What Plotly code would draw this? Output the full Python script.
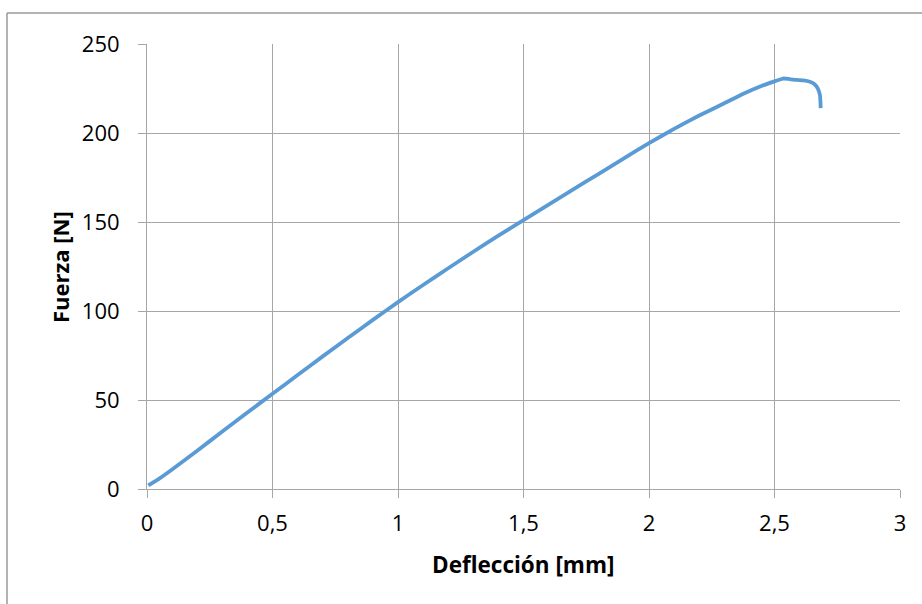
import plotly.graph_objects as go

deflexion_mm = [0.005, 0.05, 0.1, 0.2, 0.3, 0.4, 0.5, 0.6, 0.7, 0.8, 0.9, 1.0,
                1.1, 1.2, 1.3, 1.4, 1.5, 1.6, 1.7, 1.8, 1.9, 2.0, 2.1, 2.2,
                2.3, 2.376, 2.45, 2.5, 2.534, 2.56, 2.588, 2.615, 2.641, 2.656,
                2.668, 2.676, 2.681, 2.683, 2.684]
fuerza_n = [2, 6, 11, 21.5, 32.3, 43, 53.5, 64, 74.5, 84.8, 95, 105,
            114.6, 124, 133.3, 142.3, 151, 159.8, 168.5, 177.1, 185.8, 194.3, 202.3, 209.8,
            216.7, 222, 226.5, 229, 230.6, 230.3, 229.8, 229.5, 228.8, 227.8,
            226, 223.8, 221.3, 217.5, 214]

x_ticks = [0, 0.5, 1, 1.5, 2, 2.5, 3]
x_labels = ["0", "0,5", "1", "1,5", "2", "2,5", "3"]
y_ticks = [0, 50, 100, 150, 200, 250]
y_labels = ["0", "50", "100", "150", "200", "250"]

W, H = 922, 604
L, R, T, B = 147, 22, 44, 115
pw, ph = W - L - R, H - T - B

fig = go.Figure()
fig.add_trace(go.Scatter(
    x=deflexion_mm, y=fuerza_n, mode="lines",
    line=dict(color="#5b9bd5", width=3.8, shape="spline", smoothing=0.5),
    hoverinfo="x+y", showlegend=False))

font = "Open Sans, Liberation Sans, sans-serif"
grid = "#a6a6a6"

fig.update_layout(
    width=W, height=H,
    margin=dict(l=L, r=R, t=T, b=B),
    paper_bgcolor="white", plot_bgcolor="white",
    font=dict(family=font, color="#000000", size=22),
    xaxis=dict(range=[0, 3], tickvals=x_ticks, ticktext=x_labels,
               showgrid=True, gridcolor=grid, gridwidth=1,
               zeroline=False, showline=True, linecolor=grid, linewidth=1,
               ticks="outside", ticklen=8, tickcolor=grid, tickwidth=1,
               ticklabelstandoff=7,
               tickfont=dict(size=22),
               fixedrange=True),
    yaxis=dict(range=[0, 250], tickvals=y_ticks, ticktext=y_labels,
               showgrid=True, gridcolor=grid, gridwidth=1,
               zeroline=False, showline=True, linecolor=grid, linewidth=1,
               ticks="outside", ticklen=8, tickcolor=grid, tickwidth=1,
               ticklabelstandoff=14,
               tickfont=dict(size=22),
               fixedrange=True),
)

# axis titles placed as annotations in pixel-derived paper coordinates
fig.add_annotation(text="<b>Deflección [mm]</b>", xref="paper", yref="paper",
                   x=(523 - L) / pw, y=-(564 - (T + ph)) / ph,
                   xanchor="center", yanchor="middle", showarrow=False,
                   font=dict(size=22.5))
fig.add_annotation(text="<b>Fuerza [N]</b>", xref="paper", yref="paper",
                   x=(60 - L) / pw, y=1 - (267 - T) / ph, textangle=-90,
                   xanchor="center", yanchor="middle", showarrow=False,
                   font=dict(size=22))

# outer chart border (partially cropped in reference)
bx = (7 - L) / pw
by = 1 + (T - 13) / ph
fig.add_shape(type="line", xref="paper", yref="paper",
              x0=bx, y0=by, x1=(W + 5 - L) / pw, y1=by,
              line=dict(color="#9a9a9a", width=1.5))
fig.add_shape(type="line", xref="paper", yref="paper",
              x0=bx, y0=by, x1=bx, y1=-(H + 5 - (T + ph)) / ph,
              line=dict(color="#9a9a9a", width=1.5))

fig.write_html("out.html")
